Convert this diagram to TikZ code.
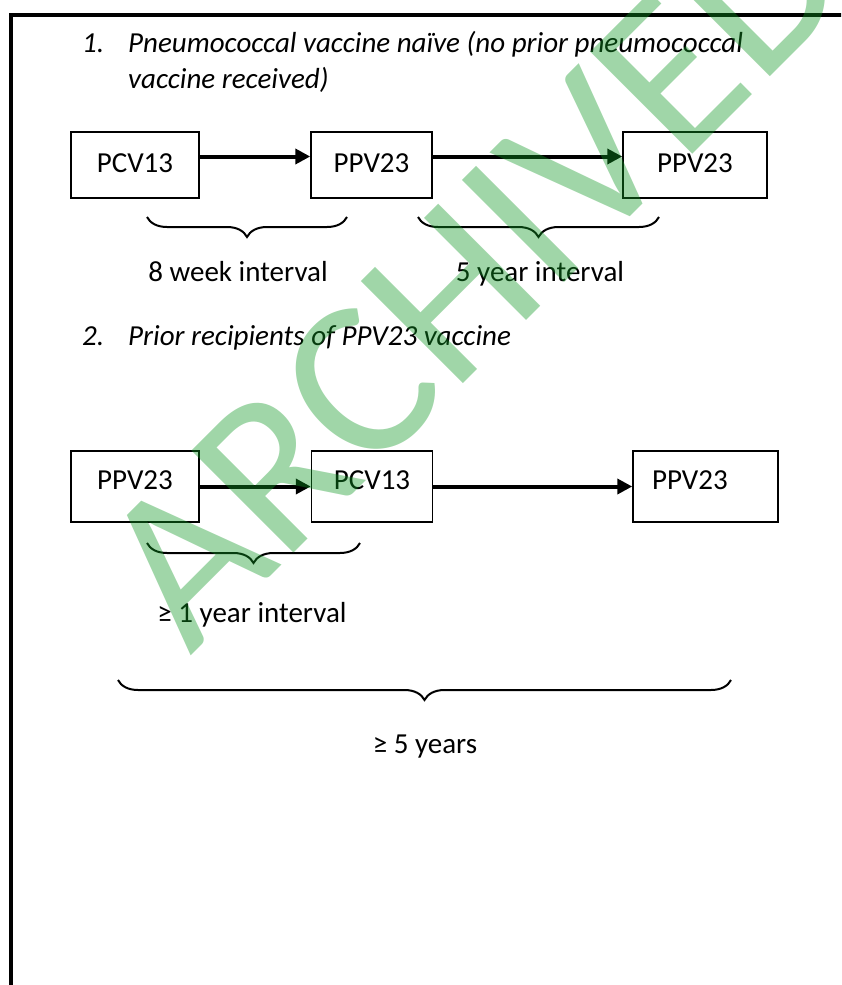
\documentclass[tikz,border=0pt]{standalone}
\usepackage{fontspec}
\setmainfont{Carlito}
\usetikzlibrary{arrows.meta,decorations.pathreplacing}
\definecolor{stampgreen}{RGB}{17,152,37}
\tikzset{
  vbox/.style={draw,line width=1.5pt,inner sep=0pt,minimum height=66pt,text depth=4pt,
    font=\fontsize{29}{35}\selectfont},
  vboxb/.style={vbox,minimum height=71pt,text depth=13pt},
  arr/.style={line width=4pt,-{Triangle[length=15pt,width=15pt]}},
  brc/.style={decorate,decoration={brace,mirror,amplitude=20pt},line width=2pt},
  lbl/.style={anchor=base,inner sep=0pt,font=\fontsize{29}{35}\selectfont},
  hd/.style={anchor=base west,inner sep=0pt,font=\fontsize{29}{35}\selectfont\itshape},
  stamp/.style={anchor=base west,rotate=45,inner sep=0pt,text=stampgreen,text opacity=.4,
    font=\fontsize{225}{225}\selectfont}
}
\begin{document}
\begin{tikzpicture}[x=1pt,y=-1pt]
\clip (0,0) rectangle (841,985);
\draw[line width=3.4pt] (11,990)--(11,15)--(846,15);
% 1. vaccine naive
\node[hd] (n1) at (82,52) {1.};
\node[hd] (h1a) at (128,52) {Pneumococcal vaccine naïve (no prior pneumococcal};
\node[hd] (h1b) at (128,88) {vaccine received)};
\node[vbox,minimum width=128pt] (b11) at (135,165) {PCV13};
\node[vbox,minimum width=121pt] (b12) at (371.5,165) {PPV23};
\node[vbox,minimum width=144pt] (b13) at (695,165) {PPV23};
\draw[arr] ([yshift=8.5pt]b11.east)--([yshift=8.5pt]b12.west);
\draw[arr] ([yshift=8.5pt]b12.east)--([yshift=8.5pt]b13.west);
\coordinate (c1a) at (147,217); \coordinate (c1b) at (347,217);
\coordinate (c2a) at (418,217); \coordinate (c2b) at (659,217);
\draw[brc] (c1a)--(c1b);
\draw[brc] (c2a)--(c2b);
\node[lbl] (l1) at (238,281) {8 week interval};
\node[lbl] (l2) at (540,281) {5 year interval};
% 2. prior PPV23
\node[hd] (n2) at (82,345) {2.};
\node[hd] (h2) at (128,345) {Prior recipients of PPV23 vaccine};
\node[vboxb,minimum width=128pt] (b21) at (135,486.5) {PPV23};
\node[vboxb,minimum width=121pt] (b22) at (372,486.5) {PCV13};
\node[vboxb,align=left,text width=107pt,inner xsep=19pt] (b23) at (705.5,486.5) {PPV23};
\draw[arr] (b21)--(b22);
\draw[arr] (b22)--(b23);
\coordinate (c3a) at (147,543); \coordinate (c3b) at (360,543);
\coordinate (c4a) at (118,680); \coordinate (c4b) at (731,680);
\draw[brc] (c3a)--(c3b);
\draw[brc] (c4a)--(c4b);
\node[lbl] (l3) at (252,622) {≥ 1 year interval};
\node[lbl] (l4) at (425,753) {≥ 5 years};
% watermark
\node[stamp] (wm) at (190,657) {ARCHIVED};
\end{tikzpicture}
\end{document}
